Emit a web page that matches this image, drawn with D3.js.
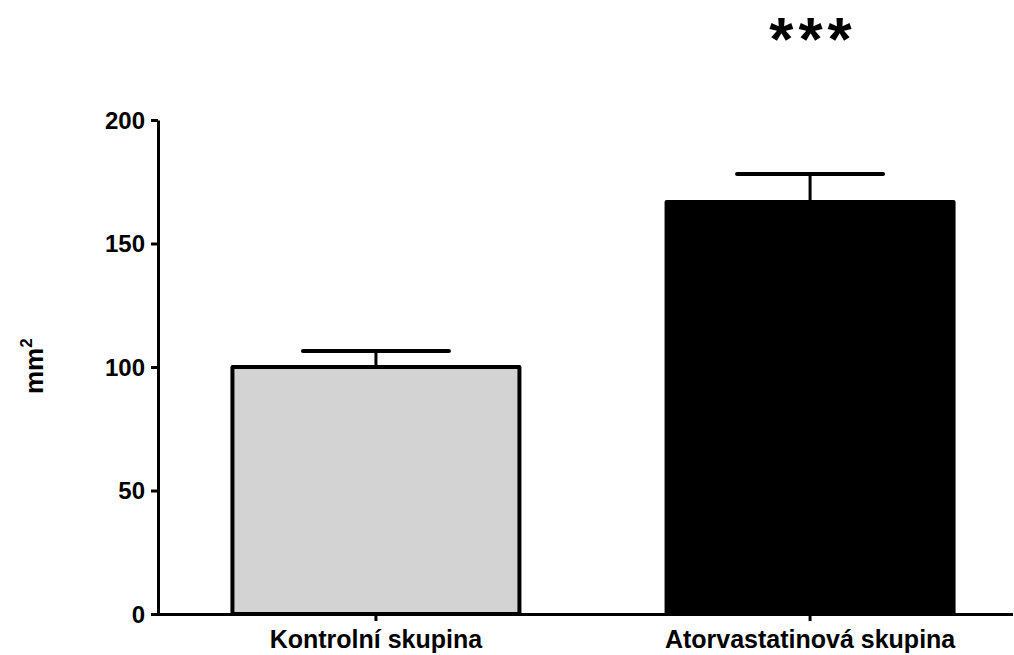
<!DOCTYPE html>
<html>
<head>
<meta charset="utf-8">
<script src="https://cdn.jsdelivr.net/npm/d3@7"></script>
<style>
  body { margin: 0; background: #fff; }
  svg text { font-family: "Liberation Sans", Arial, sans-serif; font-weight: bold; fill: #000; }
</style>
</head>
<body>
<div id="vis"></div>
<script>
// chart data
var groups = ['Kontrolní skupina', 'Atorvastatinová skupina'];
var means = [100, 166.8];
var errors = [6.5, 11.3];
var fills = ['#d3d3d3', '#000000'];
var yTicks = [0, 50, 100, 150, 200];
var signif = ['', '***'];

var width = 1014;
var height = 655;

var svg = d3.select('#vis')
    .append('svg')
    .attr('width', width)
    .attr('height', height);

var x = d3.scaleBand()
    .domain(groups)
    .range([158, 1028])
    .paddingInner(0.332)
    .paddingOuter(0.168);

var y = d3.scaleLinear()
    .domain([0, 200])
    .range([614, 120]);

// bars
svg.selectAll('.bar')
    .data(groups)
    .enter().append('rect')
    .attr('class', 'bar')
    .attr('x', function (d) { return x(d) + 1.5; })
    .attr('y', function (d, i) { return y(means[i]); })
    .attr('width', x.bandwidth() - 3)
    .attr('height', function (d, i) { return y(0) - y(means[i]); })
    .attr('fill', function (d, i) { return fills[i]; })
    .attr('stroke', '#000')
    .attr('stroke-width', 4)
    .attr('stroke-linejoin', 'round');

// error bars (upper only)
var errG = svg.selectAll('.err')
    .data(groups)
    .enter().append('g')
    .attr('class', 'err');

errG.append('line')
    .attr('x1', function (d) { return x(d) + x.bandwidth() / 2; })
    .attr('x2', function (d) { return x(d) + x.bandwidth() / 2; })
    .attr('y1', function (d, i) { return y(means[i]); })
    .attr('y2', function (d, i) { return y(means[i] + errors[i]); })
    .attr('stroke', '#000')
    .attr('stroke-width', 3);

errG.append('line')
    .attr('x1', function (d) { return x(d) + x.bandwidth() / 2 - 73; })
    .attr('x2', function (d) { return x(d) + x.bandwidth() / 2 + 73; })
    .attr('y1', function (d, i) { return y(means[i] + errors[i]); })
    .attr('y2', function (d, i) { return y(means[i] + errors[i]); })
    .attr('stroke', '#000')
    .attr('stroke-width', 4)
    .attr('stroke-linecap', 'round');

// y axis
var yAxis = svg.append('g')
    .attr('transform', 'translate(158,0)')
    .call(d3.axisLeft(y).tickValues(yTicks).tickSize(7).tickSizeOuter(0));
yAxis.select('.domain').attr('stroke-width', 3);
yAxis.selectAll('.tick line').attr('stroke-width', 3);
yAxis.selectAll('.tick text')
    .attr('x', -13)
    .attr('dy', '0.35em')
    .style('font-size', '24px')
    .style('font-family', '"Liberation Sans", Arial, sans-serif');

// x axis
var xAxis = svg.append('g')
    .attr('transform', 'translate(0,614)')
    .call(d3.axisBottom(x).tickSize(7).tickSizeOuter(0));
xAxis.select('.domain').attr('d', 'M156.5,0.5H1013').attr('stroke-width', 3);
xAxis.selectAll('.tick line').attr('stroke-width', 3);
xAxis.selectAll('.tick text')
    .attr('y', 16)
    .attr('dy', '0.71em')
    .style('font-size', '25px')
    .style('font-family', '"Liberation Sans", Arial, sans-serif');

// y label
svg.append('text')
    .attr('transform', 'translate(43,394) rotate(-90)')
    .attr('text-anchor', 'start')
    .style('font-size', '26px')
    .html('mm<tspan dy="-11" font-size="17">2</tspan>');

// significance marks
svg.selectAll('.sig')
    .data(groups)
    .enter().append('text')
    .attr('class', 'sig')
    .attr('x', function (d) { return x(d) + x.bandwidth() / 2; })
    .attr('dx', 3)
    .attr('y', 60)
    .attr('text-anchor', 'middle')
    .style('font-size', '62px')
    .style('letter-spacing', '5px')
    .text(function (d, i) { return signif[i]; });
</script>
</body>
</html>
